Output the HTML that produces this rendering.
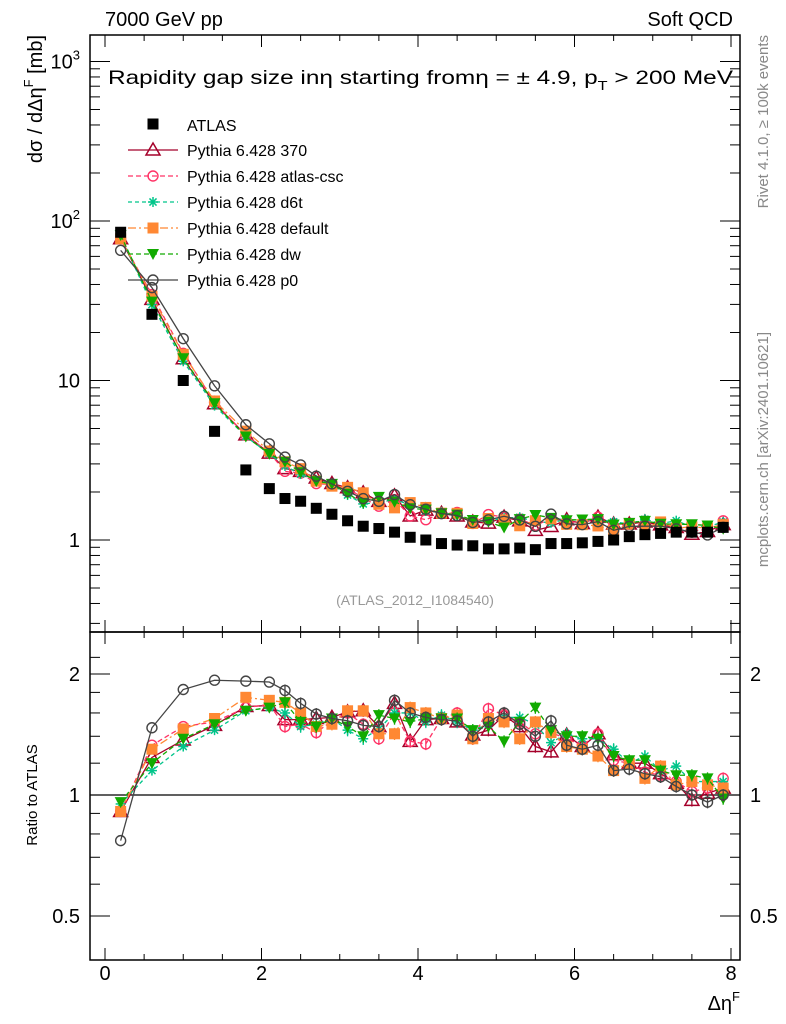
<!DOCTYPE html>
<html><head><meta charset="utf-8"><style>
body{margin:0;background:#fff}
svg{display:block;font-family:"Liberation Sans",sans-serif}
</style></head><body>
<svg id="c" width="786" height="1024" xmlns="http://www.w3.org/2000/svg"></svg>
<script>
const xs=[0.2,0.6,1.0,1.4,1.8,2.1,2.3,2.5,2.7,2.9,3.1,3.3,3.5,3.7,3.9,4.1,4.3,4.5,4.7,4.9,5.1,5.3,5.5,5.7,5.9,6.1,6.3,6.5,6.7,6.9,7.1,7.3,7.5,7.7,7.9];
const atlas=[85,26,10,4.8,2.75,2.1,1.82,1.75,1.58,1.45,1.32,1.22,1.18,1.12,1.04,1.0,0.95,0.93,0.92,0.88,0.88,0.89,0.87,0.95,0.95,0.96,0.98,1.0,1.05,1.08,1.1,1.12,1.12,1.12,1.2];
const r370=[0.91,1.24,1.37,1.49,1.66,1.67,1.54,1.54,1.55,1.56,1.61,1.62,1.48,1.69,1.36,1.54,1.55,1.52,1.41,1.45,1.58,1.48,1.32,1.28,1.41,1.32,1.42,1.26,1.2,1.2,1.13,1.07,0.97,1.01,1.04];
const rcsc=[0.91,1.33,1.48,1.52,1.65,1.68,1.48,1.5,1.43,1.53,1.6,1.5,1.38,1.6,1.36,1.34,1.55,1.6,1.38,1.64,1.58,1.52,1.42,1.43,1.38,1.33,1.42,1.22,1.2,1.14,1.12,1.08,1.02,1.04,1.1];
const rd6t=[0.95,1.15,1.32,1.45,1.62,1.65,1.6,1.48,1.5,1.55,1.45,1.38,1.46,1.6,1.6,1.52,1.58,1.52,1.45,1.5,1.56,1.56,1.5,1.35,1.42,1.38,1.38,1.3,1.2,1.25,1.15,1.18,1.08,1.08,1.08];
const rdef=[0.91,1.3,1.46,1.55,1.75,1.72,1.7,1.6,1.48,1.5,1.62,1.62,1.42,1.42,1.65,1.6,1.55,1.58,1.38,1.55,1.52,1.38,1.52,1.43,1.32,1.3,1.25,1.15,1.2,1.1,1.18,1.06,1.08,1.06,1.04];
const rdw=[0.96,1.2,1.38,1.5,1.62,1.65,1.7,1.52,1.48,1.55,1.48,1.4,1.58,1.55,1.52,1.55,1.55,1.55,1.45,1.48,1.36,1.52,1.65,1.45,1.4,1.4,1.38,1.25,1.22,1.22,1.15,1.12,1.12,1.1,0.98];
const rp0=[0.77,1.47,1.83,1.93,1.92,1.91,1.82,1.69,1.59,1.55,1.53,1.49,1.48,1.72,1.6,1.56,1.54,1.53,1.4,1.52,1.6,1.5,1.4,1.53,1.33,1.3,1.33,1.15,1.16,1.13,1.11,1.05,1.0,0.96,1.0];
const labels=["Pythia 6.428 370","Pythia 6.428 atlas-csc","Pythia 6.428 d6t","Pythia 6.428 default","Pythia 6.428 dw","Pythia 6.428 p0"];
const xticks=[0,2,4,6,8];

const NS="http://www.w3.org/2000/svg",svg=document.getElementById('c');
function el(t,a,p){const e=document.createElementNS(NS,t);for(const k in a)e.setAttribute(k,a[k]);(p||svg).appendChild(e);return e;}
const L=90,R=740,T=35,M=632,B=960;
const X=v=>105+v*78.25;
const Y=v=>540-159.5*Math.log10(v);
const YR=v=>795-121*Math.log2(v);

// frames
let f=el('rect',{x:L,y:T,width:R-L,height:M-T,fill:'none',stroke:'#000','stroke-width':1.5});

f=el('rect',{x:L,y:M,width:R-L,height:B-M,fill:'none',stroke:'#000','stroke-width':1.5});


// x ticks
for(let v=0;v<=8.01;v+=0.5){const maj=Math.abs(v-Math.round(v/2)*2)<1e-6;const len=maj?12:6;
 for(const [yt,yb] of [[T,M],[M,B]]){el('line',{x1:X(v),x2:X(v),y1:yt,y2:yt+len,stroke:'#000'});el('line',{x1:X(v),x2:X(v),y1:yb,y2:yb-len,stroke:'#000'});}}
xticks.forEach(v=>{const t=el('text',{x:X(v),y:980,'font-size':20,'text-anchor':'middle'});t.textContent=v;
 });
let t=el('text',{x:740,y:1010,'font-size':20,'text-anchor':'end'});t.innerHTML='Δη<tspan font-size="13" dy="-9">F</tspan>';


// main y ticks
for(let d=-1;d<=3;d++)for(let m=1;m<=9;m++){const v=m*Math.pow(10,d);const y=Y(v);if(y<T||y>M)continue;const len=m==1?20:10;
 el('line',{x1:L,x2:L+len,y1:y,y2:y,stroke:'#000'});el('line',{x1:R,x2:R-len,y1:y,y2:y,stroke:'#000'});}
[[1000,'10<tspan font-size="13" dy="-9">3</tspan>'],[100,'10<tspan font-size="13" dy="-9">2</tspan>'],[10,'10'],[1,'1']].forEach(([v,s])=>{
 const t=el('text',{x:80,y:Y(v)+7,'font-size':20,'text-anchor':'end'});t.innerHTML=s;
 });
t=el('text',{x:0,y:0,'font-size':20,'text-anchor':'end',transform:'translate(42,35) rotate(-90)'});
t.innerHTML='dσ / dΔη<tspan font-size="13" dy="-9">F</tspan><tspan dy="9"> [mb]</tspan>';


// ratio y ticks
[0.5,0.6,0.7,0.8,0.9,1,1.2,1.4,1.6,1.8,2,2.2].forEach(v=>{const y=YR(v);if(y<M||y>B)return;const maj=[0.5,1,2].includes(v);const len=maj?20:10;
 el('line',{x1:L,x2:L+len,y1:y,y2:y,stroke:'#000'});el('line',{x1:R,x2:R-len,y1:y,y2:y,stroke:'#000'});});
[[2,'2'],[1,'1'],[0.5,'0.5']].forEach(([v,s])=>{
 let t=el('text',{x:80,y:YR(v)+7,'font-size':20,'text-anchor':'end'});t.textContent=s;
 t=el('text',{x:750,y:YR(v)+7,'font-size':20}); t.textContent=s;});
t=el('text',{x:0,y:0,'font-size':15,'text-anchor':'middle',transform:'translate(37,795) rotate(-90)'});t.textContent='Ratio to ATLAS';

let ln=el('line',{x1:L,x2:R,y1:YR(1),y2:YR(1),stroke:'#000','stroke-width':1.2});


// header texts
[[105,26,'7000 GeV pp','start','header-process'],[733,26,'Soft QCD','end','header-category']].forEach(([x,y,s,a,n])=>{
 const t=el('text',{x,y,'font-size':20,'text-anchor':a});t.textContent=s;});
t=el('text',{x:108,y:84,'font-size':19.5,textLength:625,lengthAdjust:'spacingAndGlyphs'});
t.innerHTML='Rapidity gap size inη starting fromη = ± 4.9, p<tspan font-size="13" dy="6">T</tspan><tspan dy="-6"> &gt; 200 MeV</tspan>';

t=el('text',{x:415,y:605,'font-size':14,fill:'#999','text-anchor':'middle'});t.textContent='(ATLAS_2012_I1084540)';

t=el('text',{x:0,y:0,'font-size':15,fill:'#888','text-anchor':'end',transform:'translate(768,35) rotate(-90)'});t.textContent='Rivet 4.1.0, ≥ 100k events';

t=el('text',{x:0,y:0,'font-size':15,fill:'#888','text-anchor':'end',transform:'translate(768,332) rotate(-90)'});t.textContent='mcplots.cern.ch [arXiv:2401.10621]';


// markers
function marker(g,type,x,y,c){
 const s=5.5;
 if(type=='sq')el('rect',{x:x-s,y:y-s,width:2*s,height:2*s,fill:c},g);
 else if(type=='tri')el('polygon',{points:`${x},${y-7} ${x-7},${y+5} ${x+7},${y+5}`,fill:'none',stroke:c,'stroke-width':1.5},g);
 else if(type=='dtri')el('polygon',{points:`${x-6},${y-5} ${x+6},${y-5} ${x},${y+6}`,fill:c},g);
 else if(type=='circ')el('circle',{cx:x,cy:y,r:5,fill:'none',stroke:c,'stroke-width':1.4},g);
 else if(type=='star'){for(let a=0;a<4;a++){const an=a*Math.PI/4;el('line',{x1:x-5*Math.cos(an),y1:y-5*Math.sin(an),x2:x+5*Math.cos(an),y2:y+5*Math.sin(an),stroke:c,'stroke-width':1.5},g);}}
}
const series=[
 {r:r370,c:'#a5002a',m:'tri',d:'',n:'pythia-370'},
 {r:rcsc,c:'#ff3366',m:'circ',d:'5,3',n:'pythia-atlas-csc'},
 {r:rd6t,c:'#00c58a',m:'star',d:'4,3',n:'pythia-d6t'},
 {r:rdef,c:'#ff8833',m:'sq',d:'8,3,2,3',n:'pythia-default'},
 {r:rdw,c:'#11aa00',m:'dtri',d:'5,3',n:'pythia-dw'},
 {r:rp0,c:'#444444',m:'circ',d:'',n:'pythia-p0'}];
series.forEach((s,si)=>{
 const gm=el('g',{});
 const gr=el('g',{});
 const vals=xs.map((x,i)=>atlas[i]*s.r[i]);
 el('polyline',{points:xs.map((x,i)=>X(x)+','+Y(vals[i])).join(' '),fill:'none',stroke:s.c,'stroke-width':1.3,'stroke-dasharray':s.d},gm);
 el('polyline',{points:xs.map((x,i)=>X(x)+','+YR(s.r[i])).join(' '),fill:'none',stroke:s.c,'stroke-width':1.3,'stroke-dasharray':s.d},gr);
 xs.forEach((x,i)=>{
  if(x>2.2){const e=0.035*s.r[i];el('line',{x1:X(x),x2:X(x),y1:YR(s.r[i]-e),y2:YR(s.r[i]+e),stroke:s.c,'stroke-width':1.3},gr);}
  marker(gm,s.m,X(x),Y(vals[i]),s.c);marker(gr,s.m,X(x),YR(s.r[i]),s.c);});
});
const ga=el('g',{});
xs.forEach((x,i)=>marker(ga,'sq',X(x),Y(atlas[i]),'#000'));

// legend
const lg=el('g',{});
marker(lg,'sq',153,124,'#000');
t=el('text',{x:187,y:131,'font-size':16},lg);t.textContent='ATLAS';
series.forEach((s,i)=>{const y=150+26*i;
 el('line',{x1:128,x2:178,y1:y,y2:y,stroke:s.c,'stroke-width':1.3,'stroke-dasharray':s.d},lg);
 marker(lg,s.m,153,y,s.c);
 const t=el('text',{x:187,y:y+6,'font-size':16},lg);t.textContent=labels[i];
 });
</script>
</body></html>
